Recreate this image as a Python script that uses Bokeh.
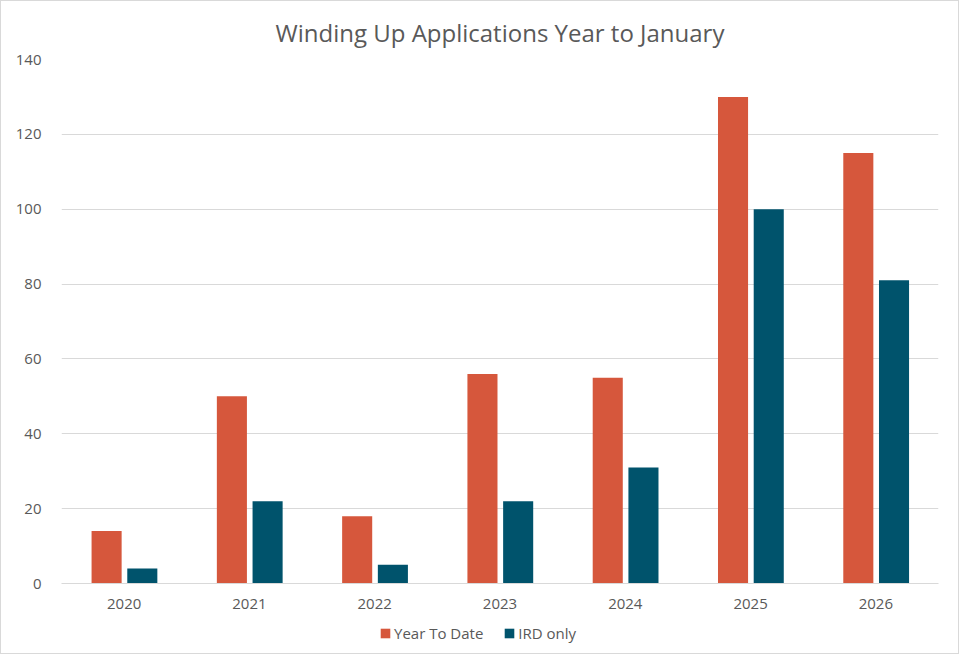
from bokeh.plotting import figure
from bokeh.layouts import column
from bokeh.models import FactorRange, Range1d, Legend, LegendItem, ColumnDataSource, SingleIntervalTicker
from bokeh.transform import dodge
from bokeh.embed import file_html
from bokeh.resources import INLINE

years = ["2020", "2021", "2022", "2023", "2024", "2025", "2026"]
year_to_date = [14, 50, 18, 56, 55, 130, 115]
ird_only = [4, 22, 5, 22, 31, 100, 81]
series_names = ["Year To Date", "IRD only"]
colors = ["#D6573C", "#00536C"]
title_text = "Winding Up Applications Year to January"

src = ColumnDataSource(dict(year=years, ytd=year_to_date, ird=ird_only))

FONT = "Open Sans"
GREY = "#595959"

p = figure(frame_width=877, frame_height=524, output_backend="svg", toolbar_location=None,
           x_range=FactorRange(factors=years, range_padding=0),
           y_range=Range1d(0, 140),
           min_border_left=60, min_border_right=20, min_border_top=58, min_border_bottom=36)

p.title.text = title_text
p.title.align = "center"
p.title.text_font = FONT
p.title.text_font_size = "24px"
p.title.text_font_style = "normal"
p.title.text_color = GREY
p.title.offset = -18
p.title.standoff = 22

r1 = p.vbar(x=dodge("year", -0.14, range=p.x_range), top="ytd", width=0.24, source=src,
            fill_color=colors[0], line_color=None)
r2 = p.vbar(x=dodge("year", 0.145, range=p.x_range), top="ird", width=0.24, source=src,
            fill_color=colors[1], line_color=None)

p.outline_line_color = None
p.xgrid.grid_line_color = None
p.ygrid.grid_line_color = "#d9d9d9"
p.ygrid.grid_line_width = 1
p.yaxis.ticker = SingleIntervalTicker(interval=20)

for ax in (p.xaxis[0], p.yaxis[0]):
    ax.major_tick_line_color = None
    ax.minor_tick_line_color = None
    ax.major_label_text_font = FONT
    ax.major_label_text_font_size = "15px"
    ax.major_label_text_color = GREY
p.yaxis.axis_line_color = None
p.yaxis.major_label_standoff = 14
p.xaxis.axis_line_color = "#d9d9d9"
p.xaxis.major_label_standoff = 9

# legend strip below the chart (its frame is aligned with the chart frame by the column)
lf = figure(width=957, height=34, output_backend="svg", toolbar_location=None,
            x_axis_location=None, y_axis_location=None,
            x_range=Range1d(0, 1), y_range=Range1d(0, 1),
            min_border=0, min_border_left=0, min_border_right=0,
            min_border_top=0, min_border_bottom=0)
lf.outline_line_color = None
lf.xgrid.visible = False
lf.ygrid.visible = False
# zero-height proxy bars, only used to draw the legend swatches
proxy = ColumnDataSource(dict(x=[0.5], top=[0.0]))
l1 = lf.vbar(x="x", top="top", width=0.0, source=proxy, fill_color=colors[0], line_color=None)
l2 = lf.vbar(x="x", top="top", width=0.0, source=proxy, fill_color=colors[1], line_color=None)

legend = Legend(items=[LegendItem(label=series_names[0], renderers=[l1]),
                       LegendItem(label=series_names[1], renderers=[l2])],
                orientation="horizontal", location=(318, 10),
                padding=0, margin=0, border_line_alpha=0, background_fill_alpha=0,
                glyph_width=12, glyph_height=12, label_standoff=3, spacing=20,
                label_text_font=FONT, label_text_font_size="15px", label_text_color=GREY)
lf.add_layout(legend, "center")

layout = column(p, lf, spacing=0, styles={"border": "1px solid #d9d9d9"})

open("out.html", "w").write(file_html(layout, INLINE))
